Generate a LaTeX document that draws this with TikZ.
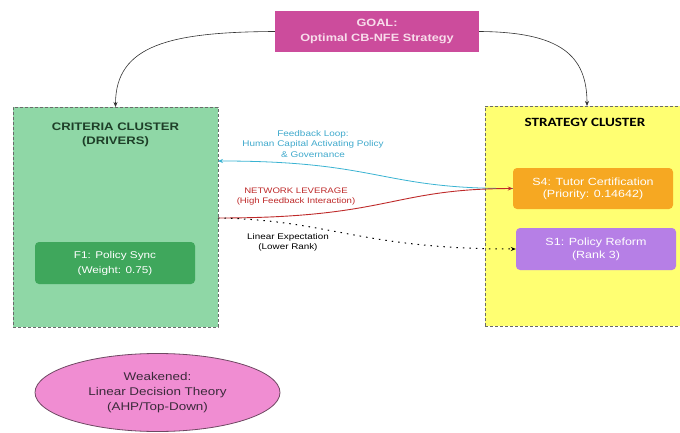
\documentclass[tikz,border=0pt]{standalone}
\usepackage{fontspec}
\setmainfont[FakeStretch=1.2]{Liberation Sans}
\newfontfamily\titlefont[FakeStretch=1.2]{Carlito}
\usetikzlibrary{arrows.meta,shapes.geometric}
\definecolor{goalfill}{HTML}{CC4C9C}
\definecolor{goaltext}{HTML}{F8DDEB}
\definecolor{critfill}{HTML}{8FD7A6}
\definecolor{crittext}{HTML}{1E3F28}
\definecolor{f1fill}{HTML}{3FA75C}
\definecolor{stratfill}{HTML}{FFFF72}
\definecolor{s4fill}{HTML}{F6A822}
\definecolor{s1fill}{HTML}{B67FE6}
\definecolor{weakfill}{HTML}{F08DD2}
\definecolor{weakline}{HTML}{6E4862}
\definecolor{weaktext}{HTML}{3A2A3A}
\definecolor{fbline}{HTML}{3AB3D2}
\definecolor{fbtext}{HTML}{3FA9CC}
\definecolor{levline}{HTML}{BE2A2A}
\definecolor{bordergray}{HTML}{6A6A6A}
\tikzset{
  cluster/.style={draw=bordergray, line width=0.8pt, dash pattern=on 3pt off 2pt},
  item/.style={rounded corners=4pt, text=white, align=center},
  lab/.style={align=center},
  tip/.style={-{Stealth[length=5pt,width=4pt]}},
}
\begin{document}
\begin{tikzpicture}[x=1pt,y=-1pt]
\useasboundingbox (0,0) rectangle (680,433);
\clip (0,0) rectangle (680,433);

% clusters
\node[cluster, fill=critfill, minimum width=205pt, minimum height=220pt] (crit) at (115.5,217) {};
\node[cluster, fill=stratfill, minimum width=204pt, minimum height=220pt] (strat) at (587,216) {};
\node[font=\bfseries\fontsize{10.9}{14}\selectfont, text=crittext, align=center] (crittitle) at (115.5,135) {CRITERIA CLUSTER\\(DRIVERS)};
\node[font=\titlefont\bfseries\fontsize{12.6}{14}\selectfont] (strattitle) at (585,122) {STRATEGY CLUSTER};

% goal
\node[fill=goalfill, minimum width=204pt, minimum height=41pt, align=center, text=goaltext, font=\bfseries\fontsize{10.6}{15}\selectfont] (goal) at (377,31.5) {GOAL:\\Optimal CB-NFE Strategy};

% items
\node[item, fill=f1fill, minimum width=160pt, minimum height=42pt, font=\fontsize{9.8}{15}\selectfont] (f1) at (115,263) {F1: Policy Sync\\(Weight: 0.75)};
\node[item, fill=s4fill, minimum width=160pt, minimum height=41pt, font=\fontsize{10.4}{12}\selectfont] (s4) at (593,188.5) {S4: Tutor Certification\\(Priority: 0.14642)};
\node[item, fill=s1fill, minimum width=160pt, minimum height=42pt, font=\fontsize{10.4}{13}\selectfont] (s1) at (596,249) {S1: Policy Reform\\(Rank 3)};

% weakened theory
\node[ellipse, draw=weakline, line width=0.8pt, fill=weakfill, minimum width=245pt, minimum height=78pt, inner sep=0pt, align=center, text=weaktext, font=\fontsize{11.2}{15}\selectfont] (weak) at (157.5,392.5) {Weakened:\\Linear Decision Theory\\(AHP/Top-Down)};

% goal to clusters
\coordinate (critin) at (115.5,107);
\coordinate (stratin) at (587,106);
\draw[tip, line width=0.6pt, black!80] (goal.west) .. controls (170,32) and (115.5,45) .. (critin);
\draw[tip, line width=0.6pt, black!80] (goal.east) .. controls (560,32) and (587,55) .. (stratin);

% feedback loop
\coordinate (fbin) at (218,161);
\coordinate (levout) at (218,218);
\draw[tip, fbline, line width=0.8pt] (s4.west) .. controls (380,189) and (380,161) .. (fbin);
\node[lab, text=fbtext, font=\fontsize{8.3}{10.5}\selectfont] (fblab) at (313,144) {Feedback Loop:\\Human Capital Activating Policy\\\& Governance};

% network leverage
\draw[tip, levline, line width=0.9pt] (levout) .. controls (390,218) and (390,189) .. (s4.west);
\node[lab, text=levline, font=\fontsize{8}{10}\selectfont] (levlab) at (296,197) {NETWORK LEVERAGE\\(High Feedback Interaction)};

% linear expectation
\draw[tip, black, line width=1pt, dash pattern=on 1.5pt off 5pt] (levout) .. controls (330,220) and (360,249) .. (s1.west);
\node[lab, font=\fontsize{8.2}{10}\selectfont] (linlab) at (288,242) {Linear Expectation\\(Lower Rank)};
\end{tikzpicture}
\end{document}
